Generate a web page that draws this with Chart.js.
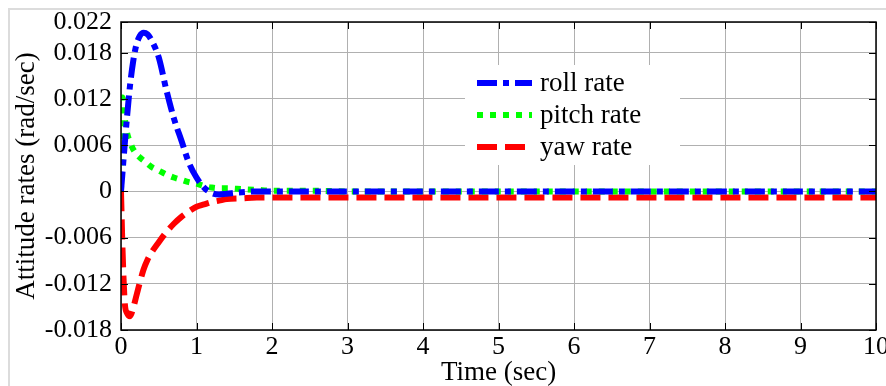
<!DOCTYPE html>
<html>
<head>
<meta charset="utf-8">
<script src="https://cdn.jsdelivr.net/npm/chart.js@4.4.0/dist/chart.umd.min.js"></script>
<style>
html, body { margin: 0; padding: 0; background: #fff; }
</style>
</head>
<body>
<canvas id="chart" width="886" height="386"></canvas>
<script>
// time samples (sec), denser near t = 0 where the rates move fast
const timeSec = [0, 0.02, 0.05, 0.08, 0.12, 0.16, 0.2, 0.25, 0.3, 0.35, 0.4, 0.5, 0.6, 0.7, 0.8, 0.9,
    1.0, 1.1, 1.2, 1.3, 1.4, 1.6, 1.8, 2.0, 2.5, 3, 4, 5, 6, 7, 8, 9, 10];

// attitude rates (rad/sec)
const rollRate = [0, 0.0025, 0.0062, 0.0097, 0.0138, 0.0168, 0.0189, 0.0202, 0.0206, 0.0204, 0.0197, 0.0174, 0.0132, 0.0095, 0.0066, 0.0037,
    0.0018, 0.0005, -0.0002, -0.0004, -0.0003, -0.0001, 0, 0, 0, 0, 0, 0, 0, 0, 0, 0, 0];
const pitchRate = [0, 0.0122, 0.0095, 0.0076, 0.0064, 0.0055, 0.0049, 0.0044, 0.0040, 0.0036, 0.0032, 0.0027, 0.0022, 0.0018, 0.0015, 0.0012,
    0.0010, 0.0007, 0.0005, 0.0004, 0.0004, 0.0003, 0.0002, 0.0001, 0.0001, 0, 0, 0, 0, 0, 0, 0, 0];
const yawRate = [0, -0.0075, -0.0145, -0.0158, -0.0162, -0.0152, -0.0137, -0.0118, -0.0101, -0.0089, -0.0080, -0.0066, -0.0053, -0.0042, -0.0033, -0.0026,
    -0.0020, -0.0017, -0.0014, -0.0012, -0.0010, -0.0009, -0.0008, -0.0008, -0.0008, -0.0008, -0.0008, -0.0008, -0.0008, -0.0008, -0.0008, -0.0008, -0.0008];

const seriesLabels = ['roll rate', 'pitch rate', 'yaw rate'];
const xTicks = [0, 1, 2, 3, 4, 5, 6, 7, 8, 9, 10];
const yTicks = [-0.018, -0.012, -0.006, 0, 0.006, 0.012, 0.018, 0.022];
const yTickLabels = ['-0.018', '-0.012', '-0.006', '0', '0.006', '0.012', '0.018', '0.022'];

const serif = 'Liberation Serif';

function points(values) {
    return timeSec.map((t, i) => ({ x: t, y: values[i] }));
}

// grey outer frame of the figure, white background
const framePlugin = {
    id: 'frame',
    beforeDraw(chart) {
        const ctx = chart.ctx;
        ctx.save();
        ctx.fillStyle = '#fff';
        ctx.fillRect(0, 0, chart.width, chart.height);
        ctx.strokeStyle = '#dcdcdc';
        ctx.lineWidth = 2;
        ctx.beginPath();
        ctx.moveTo(9, chart.height);
        ctx.lineTo(9, 9);
        ctx.lineTo(chart.width, 9);
        ctx.stroke();
        ctx.restore();
    }
};

// black box round the plot, inward tick marks and the legend
const boxPlugin = {
    id: 'box',
    afterDatasetsDraw(chart) {
        const ctx = chart.ctx;
        const a = chart.chartArea;
        const xs = chart.scales.x, ys = chart.scales.y;
        ctx.save();
        ctx.strokeStyle = '#000';
        ctx.lineWidth = 1.5;
        ctx.strokeRect(a.left, a.top, a.right - a.left, a.bottom - a.top);
        ctx.lineWidth = 1;
        ctx.beginPath();
        xTicks.forEach(v => {
            const px = Math.round(xs.getPixelForValue(v)) + 0.5;
            ctx.moveTo(px, a.bottom); ctx.lineTo(px, a.bottom - 7);
            ctx.moveTo(px, a.top); ctx.lineTo(px, a.top + 7);
        });
        yTicks.forEach(v => {
            const py = Math.round(ys.getPixelForValue(v)) + 0.5;
            ctx.moveTo(a.left, py); ctx.lineTo(a.left + 7, py);
            ctx.moveTo(a.right, py); ctx.lineTo(a.right - 7, py);
        });
        ctx.stroke();

        // legend
        ctx.fillStyle = '#fff';
        ctx.fillRect(465, 65, 215, 100);
        const rowY = [83, 115, 147];
        chart.data.datasets.forEach((ds, i) => {
            ctx.strokeStyle = ds.borderColor;
            ctx.lineWidth = ds.borderWidth;
            ctx.setLineDash(ds.borderDash);
            ctx.beginPath();
            ctx.moveTo(477, rowY[i]);
            ctx.lineTo(532, rowY[i]);
            ctx.stroke();
            ctx.setLineDash([]);
            ctx.fillStyle = '#000';
            ctx.font = '27px "' + serif + '"';
            ctx.textBaseline = 'middle';
            ctx.fillText(ds.label, 540, rowY[i] + 1);
        });
        ctx.restore();
    }
};

new Chart(document.getElementById('chart'), {
    type: 'line',
    data: {
        datasets: [{
            label: seriesLabels[0],
            data: points(rollRate),
            borderColor: '#0000ff',
            borderWidth: 6,
            borderDash: [20, 6, 6, 6]
        }, {
            label: seriesLabels[1],
            data: points(pitchRate),
            borderColor: '#00ff00',
            borderWidth: 6,
            borderDash: [6, 7]
        }, {
            label: seriesLabels[2],
            data: points(yawRate),
            borderColor: '#ff0000',
            borderWidth: 6,
            borderDash: [20, 8]
        }]
    },
    options: {
        responsive: false,
        animation: false,
        parsing: false,
        elements: {
            point: { radius: 0 },
            line: { cubicInterpolationMode: 'monotone', borderCapStyle: 'butt' }
        },
        layout: { padding: { top: 22, right: 10, bottom: 0, left: 0 } },
        plugins: {
            legend: { display: false },
            tooltip: { enabled: false }
        },
        scales: {
            x: {
                type: 'linear',
                min: 0,
                max: 10,
                afterBuildTicks: s => { s.ticks = xTicks.map(v => ({ value: v })); },
                afterFit: s => { s.height = 56; s.paddingRight = 0; s.paddingLeft = 0; },
                ticks: {
                    font: { family: serif, size: 26, lineHeight: 1 },
                    color: '#000',
                    padding: 4,
                    maxRotation: 0,
                    autoSkip: false
                },
                grid: { color: '#b0b0b0', lineWidth: 1, drawTicks: false },
                border: { display: false },
                title: {
                    display: true,
                    text: 'Time (sec)',
                    color: '#000',
                    font: { family: serif, size: 27, lineHeight: 1 },
                    padding: { top: 0, bottom: 0 }
                }
            },
            y: {
                min: -0.018,
                max: 0.022,
                afterBuildTicks: s => { s.ticks = yTicks.map(v => ({ value: v })); },
                afterFit: s => { s.width = 121; },
                ticks: {
                    font: { family: serif, size: 26, lineHeight: 1 },
                    color: '#000',
                    padding: 9,
                    autoSkip: false,
                    callback: v => yTickLabels[yTicks.indexOf(v)]
                },
                grid: { color: '#b0b0b0', lineWidth: 1, drawTicks: false },
                border: { display: false },
                title: {
                    display: true,
                    text: 'Attitude rates (rad/sec)',
                    color: '#000',
                    font: { family: serif, size: 27, lineHeight: 1 },
                    padding: { top: 13, bottom: 0 }
                }
            }
        }
    },
    plugins: [framePlugin, boxPlugin]
});
</script>
</body>
</html>
